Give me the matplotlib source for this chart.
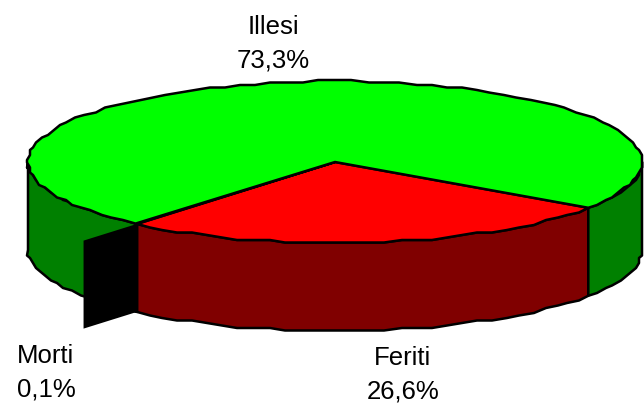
import numpy as np
import matplotlib
matplotlib.use('Agg')
import matplotlib.pyplot as plt
from matplotlib.patches import Polygon

# dati del grafico
categorie = ['Feriti', 'Morti', 'Illesi']
percentuali = [26.6, 0.1, 73.3]
colori_top = ['#ff0000', '#000000', '#00ff00']
colori_lato = ['#800000', '#000000', '#008000']

plt.rcParams['font.family'] = ['Liberation Sans', 'DejaVu Sans']

cx, cy = 335, 162
rx, ry = 307, 81
depth = 88
start = 34.4   # gradi, in senso orario sullo schermo
lw = 1.8


def rim(a1, a2, off=0.0):
    # bordo a scalini come nell'originale
    n = max(int(abs(a2 - a1) / 3.0), 1)
    a = np.radians(np.linspace(a1, a2, n + 1))
    x = cx + rx * np.cos(a)
    y = cy + ry * np.sin(a)
    xr = np.round(x / 3) * 3
    yr = np.round(y / 2.5) * 2.5
    xr[0], xr[-1] = x[0], x[-1]
    yr[0], yr[-1] = y[0], y[-1]
    return np.column_stack([xr, yr + off])


def pt(a, r=1.0, off=0.0):
    a = np.radians(a)
    return [cx + r * rx * np.cos(a), cy + r * ry * np.sin(a) + off]


fig = plt.figure(figsize=(6.44, 4.03), dpi=100)
ax = fig.add_axes([0, 0, 1, 1])
ax.set_xlim(0, 644)
ax.set_ylim(403, 0)
ax.axis('off')

bordi = np.cumsum([0] + percentuali) * 3.6 + start

# lati visibili
for i, c in enumerate(categorie):
    a1, a2 = bordi[i], bordi[i + 1]
    pezzi = []
    if a1 < 180:
        pezzi.append((a1, min(a2, 180)))
    if a2 > 360:
        pezzi.append((360, a2))
    for p1, p2 in pezzi:
        top = rim(p1, p2)
        bot = rim(p1, p2, depth)[::-1]
        ax.add_patch(Polygon(np.vstack([top, bot]), closed=True,
                             fc=colori_lato[i], ec='black', lw=lw, zorder=2,
                             joinstyle='round'))

# faccia superiore
for i, c in enumerate(categorie):
    a1, a2 = bordi[i], bordi[i + 1]
    punti = np.vstack([[cx, cy], rim(a1, a2)])
    ax.add_patch(Polygon(punti, closed=True, fc=colori_top[i], ec='black',
                         lw=lw, zorder=3, joinstyle='round'))

# pannello nero di Morti
am = bordi[1]
pann = [pt(am, 1.0), pt(am, 1.0, depth), pt(am, 1.27, depth), pt(am, 1.27)]
ax.add_patch(Polygon(pann, closed=True, fc='black', ec='none', zorder=4))

# etichette
pos_x = [403, 46, 273]
pos_y = [358, 356, 27]
for i, c in enumerate(categorie):
    val = f'{percentuali[i]:.1f}'.replace('.', ',') + '%'
    ax.text(pos_x[i], pos_y[i], c, fontsize=18.5, ha='center', va='center', color='black')
    ax.text(pos_x[i], pos_y[i] + 33.5, val, fontsize=18.5, ha='center', va='center', color='black', clip_on=False)

fig.savefig('out.png', dpi=100)
